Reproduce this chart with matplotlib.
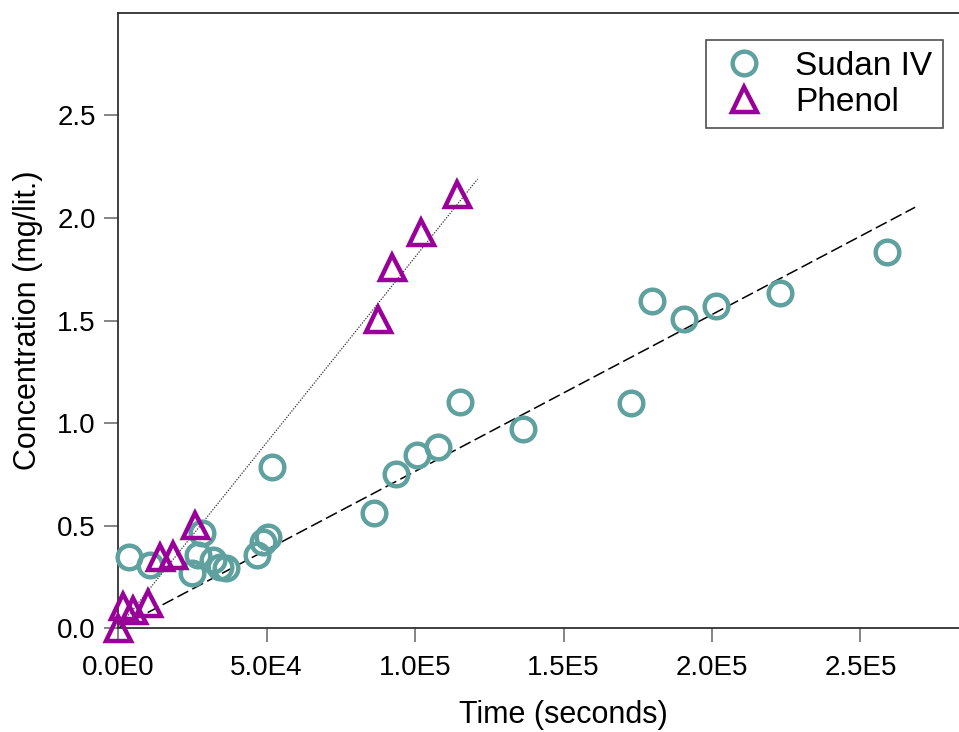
import matplotlib
matplotlib.use("Agg")
import matplotlib.pyplot as plt
from matplotlib.ticker import FixedLocator, FuncFormatter

plt.rcParams['font.family'] = ['Liberation Sans', 'DejaVu Sans']

# Sudan IV release data
sudan_t = [3.8e3, 1.08e4, 2.48e4, 2.70e4, 2.82e4, 3.21e4, 3.43e4, 3.64e4,
           4.67e4, 4.89e4, 5.06e4, 5.19e4, 8.62e4, 9.35e4, 1.006e5, 1.078e5,
           1.152e5, 1.365e5, 1.726e5, 1.797e5, 1.907e5, 2.012e5, 2.229e5, 2.590e5]
sudan_c = [0.346, 0.308, 0.271, 0.357, 0.463, 0.333, 0.300, 0.292,
           0.357, 0.422, 0.446, 0.786, 0.563, 0.752, 0.845, 0.885,
           1.104, 0.970, 1.096, 1.597, 1.507, 1.572, 1.636, 1.835]

# Phenol release data
phenol_t = [0.0, 1.8e3, 5.2e3, 1.02e4, 1.41e4, 1.86e4, 2.59e4,
            8.76e4, 9.22e4, 1.019e5, 1.142e5]
phenol_c = [0.0, 0.109, 0.089, 0.122, 0.349, 0.357, 0.503,
            1.507, 1.759, 1.933, 2.115]

# Linear fits through the origin
sudan_fit_t = [0.0, 2.684e5]
sudan_fit_c = [0.0, 2.052]
phenol_fit_t = [0.0, 1.211e5]
phenol_fit_c = [0.0, 2.190]

x_ticks = [0, 5e4, 1e5, 1.5e5, 2e5, 2.5e5]
x_tick_labels = ["0.0E0", "5.0E4", "1.0E5", "1.5E5", "2.0E5", "2.5E5"]
y_ticks = [0.0, 0.5, 1.0, 1.5, 2.0, 2.5]

W, H = 959, 732
fig = plt.figure(figsize=(W / 100, H / 100), dpi=100)
ax = fig.add_axes([118 / W, 103.7 / H, 891 / W, 615.6 / H])

teal = '#5fa19f'
purple = '#990099'

ax.plot(sudan_fit_t, sudan_fit_c, color='black', lw=1.1,
        dashes=(8, 3), zorder=2)
ax.plot(phenol_fit_t, phenol_fit_c, color='#333333', lw=0.9,
        linestyle=(0, (1, 1.2)), zorder=2)

ax.plot(sudan_t, sudan_c, linestyle='none', marker='o', ms=17,
        mfc='none', mec=teal, mew=3.2, label='Sudan IV', zorder=3,
        clip_on=False)
ax.plot(phenol_t, phenol_c, linestyle='none', marker='^', ms=18,
        mfc='none', mec=purple, mew=3.2, label='Phenol', zorder=4,
        clip_on=False)

ax.set_xlim(0, 3.0e5)
ax.set_ylim(0, 3.0)
ax.xaxis.set_major_locator(FixedLocator(x_ticks))
ax.set_xticklabels(x_tick_labels)
ax.yaxis.set_major_locator(FixedLocator(y_ticks))
ax.yaxis.set_major_formatter(FuncFormatter(lambda v, p: f"{v:.1f}"))

ax.tick_params(axis='both', direction='out', length=10, width=1.2,
               color='#707070', labelsize=20)
ax.tick_params(axis='x', pad=9)
ax.tick_params(axis='y', pad=6)
for side in ('left', 'bottom', 'top'):
    ax.spines[side].set_color('#303030')
    ax.spines[side].set_linewidth(1.3)
ax.spines['right'].set_visible(False)

ax.set_xlabel("Time (seconds)", fontsize=22, labelpad=14)
ax.set_ylabel("Concentration (mg/lit.)", fontsize=22, labelpad=10)

leg = ax.legend(loc='upper right', bbox_to_anchor=(943 / W, 1 - 40 / H),
                bbox_transform=fig.transFigure, borderaxespad=0,
                fontsize=24, frameon=True, fancybox=False,
                handlelength=1.6, handletextpad=0.75, borderpad=0.32,
                labelspacing=0.15)
leg.get_frame().set_edgecolor('#222222')
leg.get_frame().set_linewidth(1.2)

fig.savefig("out.png", dpi=100)
